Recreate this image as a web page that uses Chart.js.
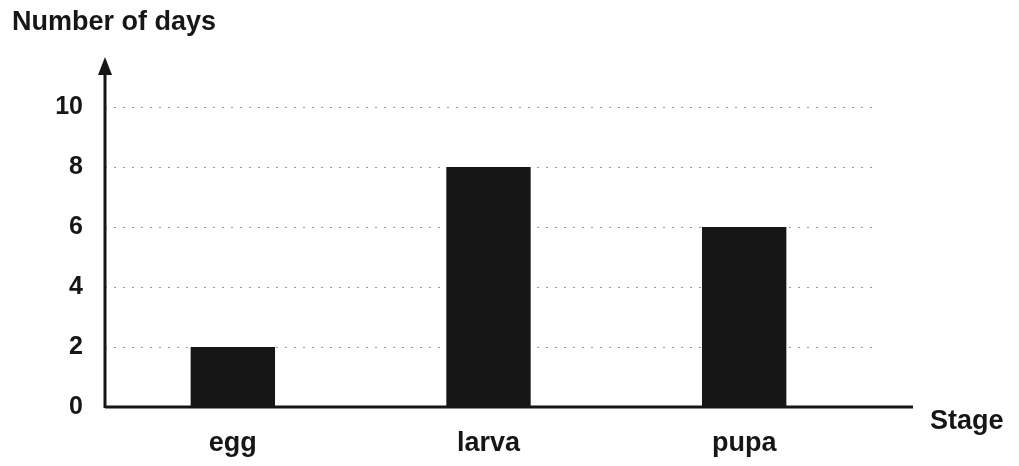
<!DOCTYPE html>
<html>
<head>
<meta charset="utf-8">
<script src="https://cdn.jsdelivr.net/npm/chart.js@4"></script>
<style>
  html, body { margin: 0; padding: 0; background: #fff; }
  #wrap { width: 1019px; height: 466px; }
</style>
</head>
<body>
<div id="wrap"><canvas id="myChart" width="1019" height="466"></canvas></div>
<script>
// Datos del gráfico
const stages = ['egg', 'larva', 'pupa'];
const days = [2, 8, 6];
const yTicks = [0, 2, 4, 6, 8, 10];

const ink = '#161616';
const fontFamily = '"Liberation Sans", Arial, sans-serif';

// Ejes con flechas y títulos dibujados a mano
const axisPlugin = {
    id: 'axisArrows',
    afterDraw(chart) {
        const ctx = chart.ctx;
        const area = chart.chartArea;
        ctx.save();
        ctx.strokeStyle = ink;
        ctx.fillStyle = ink;
        ctx.lineWidth = 3;
        // eje y con flecha
        ctx.beginPath();
        ctx.moveTo(area.left, area.bottom + 1);
        ctx.lineTo(area.left, area.top - 40);
        ctx.stroke();
        ctx.beginPath();
        ctx.moveTo(area.left, area.top - 50);
        ctx.lineTo(area.left - 7, area.top - 32);
        ctx.lineTo(area.left + 7, area.top - 32);
        ctx.closePath();
        ctx.fill();
        // eje x
        ctx.beginPath();
        ctx.moveTo(area.left, area.bottom);
        ctx.lineTo(area.right + 41, area.bottom);
        ctx.stroke();
        // textos
        ctx.font = 'bold 27px ' + fontFamily;
        ctx.textBaseline = 'middle';
        ctx.textAlign = 'left';
        ctx.fillText('Number of days', 12, 23);
        ctx.fillText('Stage', 930, area.bottom + 15);
        ctx.restore();
    }
};

const ctx = document.getElementById('myChart').getContext('2d');
const chart = new Chart(ctx, {
    type: 'bar',
    data: {
        labels: stages,
        datasets: [{
            label: 'Number of days',
            data: days,
            backgroundColor: ink,
            borderWidth: 0,
            barPercentage: 0.33,
            categoryPercentage: 1
        }]
    },
    options: {
        responsive: false,
        animation: false,
        layout: { padding: { top: 107, right: 147, left: 0, bottom: 0 } },
        plugins: {
            legend: { display: false },
            tooltip: { enabled: false }
        },
        scales: {
            x: {
                grid: { display: false, drawTicks: false },
                border: { display: false },
                ticks: {
                    color: ink,
                    padding: 20,
                    font: { family: fontFamily, size: 27, weight: 'bold' }
                },
                afterFit(scale) { scale.height = 59; }
            },
            y: {
                min: 0,
                max: 10,
                afterBuildTicks(scale) { scale.ticks = yTicks.map(v => ({ value: v })); },
                grid: {
                    drawTicks: false,
                    color: (c) => c.tick.value === 0 ? 'rgba(0,0,0,0)' : '#9a9a9a',
                    lineWidth: 1
                },
                border: { display: false, dash: [2, 7] },
                ticks: {
                    color: ink,
                    padding: 22,
                    font: { family: fontFamily, size: 25, weight: 'bold' }
                },
                afterFit(scale) { scale.width = 105; }
            }
        }
    },
    plugins: [axisPlugin]
});
</script>
</body>
</html>
